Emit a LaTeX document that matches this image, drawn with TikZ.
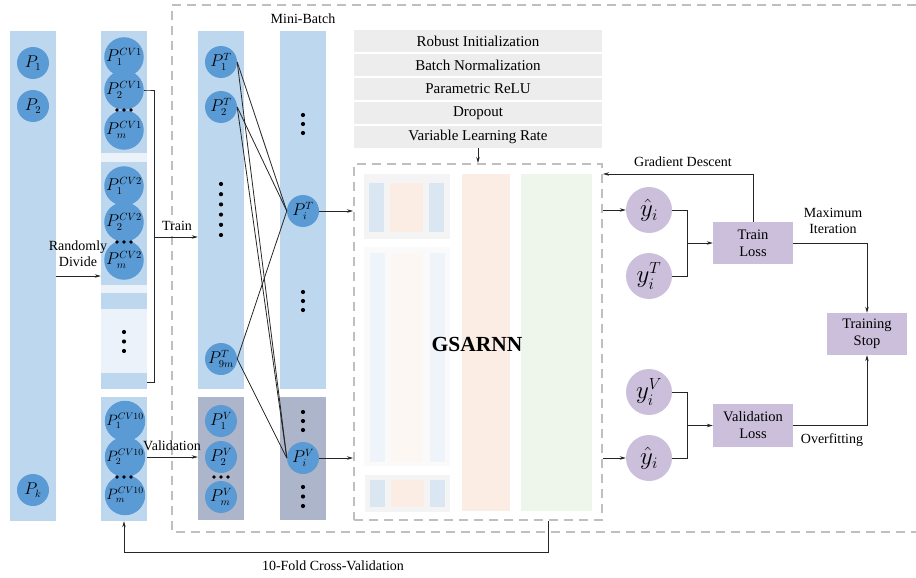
\RequirePackage{fix-cm}
\documentclass[tikz,border=0pt]{standalone}
\usepackage{fontspec}
\setmainfont{Liberation Serif}
\usetikzlibrary{arrows.meta,calc}
\DeclareMathSizes{17}{17}{10.5}{7}
\DeclareMathSizes{15}{15}{9.5}{7}
\DeclareMathSizes{25}{25}{16}{11}
\definecolor{colblue}{HTML}{BDD7EE}
\definecolor{collight}{HTML}{EBF2FA}
\definecolor{circblue}{HTML}{5B9BD5}
\definecolor{colgray}{HTML}{ADB5CA}
\definecolor{purp}{HTML}{CBBFDB}
\definecolor{listgray}{HTML}{EDEDED}
\definecolor{dashgray}{HTML}{BFBFBF}
\definecolor{lnblue}{HTML}{DAE6F2}
\definecolor{lnblueF}{HTML}{EFF4FA}
\definecolor{lnorange}{HTML}{FBEDE4}
\definecolor{lnorangeF}{HTML}{FCF7F3}
\definecolor{lngreen}{HTML}{EEF5EA}
\definecolor{lnbox}{HTML}{F4F4F4}
\definecolor{lnboxF}{HTML}{FAFAFA}
\definecolor{lnk}{HTML}{262626}
\begin{document}
\begin{tikzpicture}[x=1pt,y=-1pt,
  pc/.style={circle,fill=circblue,minimum size=32pt,inner sep=0pt,font=\fontsize{17}{19}\selectfont},
  pcs/.style={pc,font=\fontsize{15}{17}\selectfont},
  yc/.style={circle,fill=purp,minimum size=46pt,inner sep=0pt,font=\fontsize{25}{27}\selectfont},
  colbox/.style={fill=colblue,draw=none,minimum width=46pt,inner sep=0pt},
  vbox/.style={fill=colgray,draw=none,minimum width=46pt,inner sep=0pt},
  listbox/.style={fill=listgray,minimum width=248pt,minimum height=22pt,inner sep=0pt,font=\fontsize{15}{17}\selectfont},
  lossbox/.style={fill=purp,minimum width=80pt,minimum height=42pt,inner sep=0pt,align=center,font=\fontsize{14.5}{17}\selectfont},
  lbl/.style={font=\fontsize{14}{16}\selectfont,inner sep=0pt,align=center},
  arr/.style={draw=lnk,line width=0.8pt,-{Stealth[length=6pt,width=3.5pt]}},
  ln/.style={draw=lnk,line width=0.8pt},
  dashbox/.style={draw=dashgray,line width=2pt,dash pattern=on 9pt off 6pt}
]
\useasboundingbox (0,0) rectangle (916,578);
% big dashed frame
\draw[dashbox] (916,5) -- (172,5) -- (172,532) -- (916,532);

% column 1
\node[colbox,minimum height=490pt] (col1) at (33,276) {};
\node[pc] (p1) at (33,63) {$P_1$};
\node[pc] (p2) at (33,106) {$P_2$};
\node[pc] (pk) at (33,490) {$P_k$};

% column 2
\node[fill=collight,minimum width=46pt,minimum height=358pt,inner sep=0pt] (col2) at (124,210) {};
\node[colbox,minimum height=122pt] (cv1) at (124,92) {};
\node[colbox,minimum height=123pt] (cv2) at (124,223.5) {};
\node[colbox,minimum height=16pt] (cvd1) at (124,301) {};
\node[colbox,minimum height=16pt] (cvd2) at (124,381) {};
\node[colbox,minimum height=124pt] (col2v) at (124,459) {};
\node[pc] (a1) at (124,57) {$P_1^{CV1}$};
\node[pc] (a2) at (124,90) {$P_2^{CV1}$};
\node[pc] (am) at (124,130) {$P_m^{CV1}$};
\node[pc] (b1) at (124,186) {$P_1^{CV2}$};
\node[pc] (b2) at (124,222) {$P_2^{CV2}$};
\node[pc] (bm) at (124,260) {$P_m^{CV2}$};
\node[pcs] (c1) at (125,421) {$P_1^{CV10}$};
\node[pcs] (c2) at (125,457) {$P_2^{CV10}$};
\node[pcs] (cm) at (125,495) {$P_m^{CV10}$};
\foreach \yy in {110,242,477}{
  \foreach \xx in {117,124,131}{\fill (\xx,\yy) circle[radius=1.8pt];}
}
\foreach \yy in {332,341.5,351}{\fill (124,\yy) circle[radius=2.1pt];}

% column 3
\node[colbox,minimum height=358pt] (col3) at (221,210) {};
\node[vbox,minimum height=123pt] (col3v) at (221,458.5) {};
\node[pc] (t1) at (221,62) {$P_1^{T}$};
\node[pc] (t2) at (221,107) {$P_2^{T}$};
\node[pc] (t9) at (221,359) {$P_{9m}^{T}$};
\foreach \yy in {184,194.2,204.4,214.6,224.8,235}{\fill (221,\yy) circle[radius=2.1pt];}
\node[pc] (v1) at (221,421) {$P_1^{V}$};
\node[pc] (v2) at (221,457) {$P_2^{V}$};
\node[pc] (vm) at (221,497) {$P_m^{V}$};
\foreach \xx in {214,221,228}{\fill (\xx,477) circle[radius=1.8pt];}

% column 4
\node[colbox,minimum height=358pt] (col4) at (303,210) {};
\node[vbox,minimum height=123pt] (col4v) at (303,458.5) {};
\node[lbl] (mb) at (303,19) {Mini-Batch};
\node[pc] (piT) at (303,211) {$P_i^{T}$};
\node[pc] (piV) at (303,458) {$P_i^{V}$};
\foreach \yy in {115,124,133,292,301,310,412,421,430,487,496.5,506}{\fill (303,\yy) circle[radius=2.1pt];}

% list boxes
\node[listbox] (l1) at (478,41.5) {Robust Initialization};
\node[listbox] (l2) at (478,65.5) {Batch Normalization};
\node[listbox] (l3) at (478,89) {Parametric ReLU};
\node[listbox] (l4) at (478,113) {Dropout};
\node[listbox] (l5) at (478,137) {Variable Learning Rate};

% GSARNN box
\fill[lnbox] (364,174) rectangle (450,239);
\fill[lnblue] (369,183) rectangle (384,232);
\fill[lnorange] (390,183) rectangle (423,232);
\fill[lnblue] (429,183) rectangle (444,232);
\fill[lnboxF] (364,247) rectangle (450,466);
\fill[lnblueF] (370,253) rectangle (385,462);
\fill[lnorangeF] (391,253) rectangle (423,462);
\fill[lnblueF] (430,253) rectangle (445,462);
\fill[lnbox] (365,475) rectangle (450,512);
\fill[lnblue] (370,480) rectangle (385,507);
\fill[lnorange] (391,480) rectangle (424,507);
\fill[lnblue] (430,480) rectangle (445,507);
\fill[lnorange] (462,174) rectangle (510,511);
\fill[lngreen] (521,174) rectangle (592,511);
\node[dashbox,minimum width=248pt,minimum height=356pt,inner sep=0pt] (gs) at (478,342) {};
\node[font=\fontsize{21.5}{24}\selectfont\bfseries] (gst) at (477,344) {GSARNN};

% right part
\node[yc] (yh1) at (649,210) {$\hat{y}_i$};
\node[yc] (yT) at (649,276) {$y_i^T$};
\node[yc] (yV) at (649,392) {$y_i^V$};
\node[yc] (yh2) at (649,458) {$\hat{y}_i$};
\node[lossbox] (tl) at (753,243) {Train\\Loss};
\node[lossbox,minimum height=43pt] (vl) at (753,425.5) {Validation\\Loss};
\node[lossbox] (ts) at (867,334) {Training\\Stop};

% connectors left
\draw[arr] (col1.east |- 0,276) -- (cv2.west |- 0,276);
\node[lbl] (rd) at (78,254) {Randomly\\Divide};
\coordinate (brk) at (154,237);
\coordinate (brb) at (147,382);
\draw[ln] (a2.east) -- (a2.east -| cv1.east) -- ++(7,0) |- (brb);
\draw[arr] (brk) -- (brk -| col3.west);
\node[lbl] (trl) at (177,226) {Train};
\draw[arr] (col2v.east |- c2) -- (col3v.west |- c2);
\node[lbl] (vll) at (172,446) {Validation};

% fan lines
\foreach \s in {t1,t2,t9}{
  \draw[ln] (\s.east) -- (piT.west);
  \draw[ln] (\s.east) -- (piV.west);
}
\draw[arr] (piT.east) -- (piT.east -| gs.west);
\draw[arr] (piV.east) -- (piV.east -| gs.west);
\draw[arr] (l5.south) -- (gs.north);

% right connectors
\draw[arr] (gs.east |- yh1) -- (yh1.west);
\draw[arr] (gs.east |- yh2) -- (yh2.west);
\coordinate (j1) at (687,243);
\coordinate (j2) at (687,425.5);
\draw[ln] (yh1.east) -| (j1);
\draw[ln] (yT.east) -| (j1);
\draw[arr] (j1) -- (tl.west);
\draw[ln] (yV.east) -| (j2);
\draw[ln] (yh2.east) -| (j2);
\draw[arr] (j2) -- (vl.west);
\coordinate (gd) at (753,174);
\draw[arr] (tl.north) -- (gd) -- (gd -| gs.east);
\node[lbl] (gdl) at (683,162) {Gradient Descent};
\draw[arr] (tl.east) -| (ts.north);
\node[lbl] (mil) at (833,221) {Maximum\\Iteration};
\draw[arr] (vl.east) -| (ts.south);
\node[lbl] (ovl) at (832,440) {Overfitting};
\coordinate (cvs) at (548,552);
\draw[arr] (gs.south -| cvs) -- (cvs) -| (col2v.south);
\node[lbl] (cvl) at (333,566) {10-Fold Cross-Validation};
\end{tikzpicture}
\end{document}
